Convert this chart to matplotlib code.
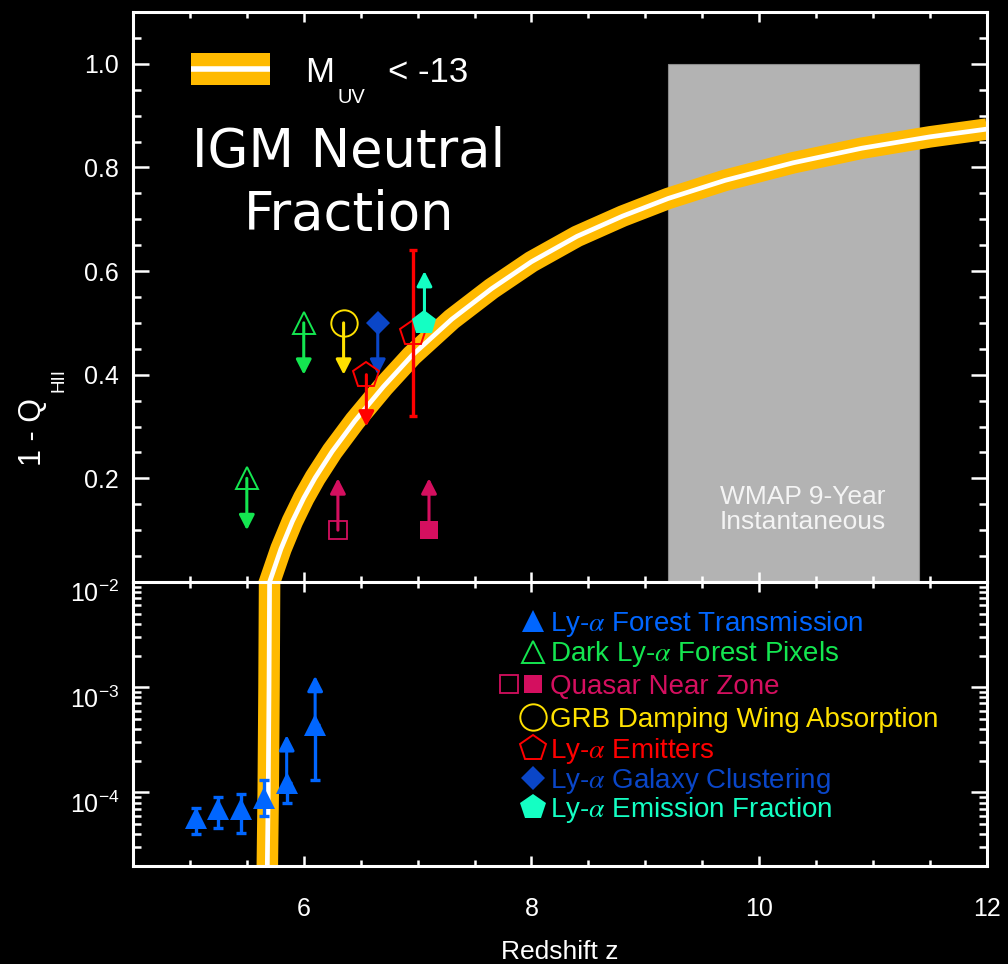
import numpy as np
import matplotlib
matplotlib.use("Agg")
import matplotlib.pyplot as plt
from matplotlib.patches import Rectangle, ArrowStyle
from matplotlib.transforms import ScaledTranslation
from matplotlib.ticker import MultipleLocator, FixedLocator, FixedFormatter, LogLocator, NullFormatter

plt.rcParams['font.family'] = ['Liberation Sans', 'DejaVu Sans']
plt.rcParams['mathtext.fontset'] = 'stix'

# ---------------- data ----------------
# model neutral fraction (M_UV < -13), linear panel
model_z_lin = [5.65, 5.70, 5.80, 5.90, 6.00, 6.10, 6.25, 6.45, 6.70, 6.95, 7.30, 7.65,
               8.00, 8.40, 8.80, 9.20, 9.70, 10.30, 10.90, 11.50, 12.00]
model_x_lin = [-0.03, 0.0, 0.064, 0.117, 0.162, 0.201, 0.252, 0.311, 0.377, 0.437, 0.507, 0.566,
               0.618, 0.667, 0.706, 0.740, 0.775, 0.809, 0.837, 0.859, 0.874]
# model neutral fraction, log panel
model_z_log = [5.675, 5.680, 5.688, 5.695, 5.700, 5.702]
model_x_log = [1e-5, 2e-5, 1e-4, 1e-3, 1e-2, 1.5e-2]

# WMAP 9-year instantaneous reionization range
wmap_z = [9.2, 11.4]
wmap_x = [0.0, 1.0]

# Ly-alpha forest transmission
forest_z = [5.05, 5.25, 5.45, 5.65, 5.85, 6.10]
forest_x = [5.7e-5, 7.0e-5, 6.9e-5, 8.8e-5, 1.24e-4, 4.4e-4]
forest_lo = [4.0e-5, 4.6e-5, 4.1e-5, 6.0e-5, 8.0e-5, 1.3e-4]
forest_hi = [7.1e-5, 9.1e-5, 9.7e-5, 1.31e-4, np.nan, np.nan]
forest_lim = [np.nan, np.nan, np.nan, np.nan, 3.5e-4, 1.28e-3]

# Dark Ly-alpha forest pixels (upper limits)
dark_z = [5.5, 6.0]
dark_x = [0.2, 0.5]
dark_lim = [0.1, 0.4]

# Quasar near zones (lower limits)
qso_open_z = [6.3]
qso_open_x = [0.1]
qso_open_lim = [0.2]
qso_fill_z = [7.1]
qso_fill_x = [0.1]
qso_fill_lim = [0.2]

# GRB damping wing (upper limit)
grb_z = [6.35]
grb_x = [0.5]
grb_lim = [0.4]

# Ly-alpha emitters
lae_lim_z = [6.55]
lae_lim_x = [0.40]
lae_lim_tip = [0.30]
lae_z = [6.96]
lae_x = [0.48]
lae_err = [0.16]

# Ly-alpha galaxy clustering (upper limit)
clus_z = [6.65]
clus_x = [0.5]
clus_lim = [0.4]

# Ly-alpha emission fraction (lower limit)
frac_z = [7.06]
frac_x = [0.5]
frac_lim = [0.6]

legend_labels = ['Ly-$\\alpha$ Forest Transmission', 'Dark Ly-$\\alpha$ Forest Pixels',
                 'Quasar Near Zone', 'GRB Damping Wing Absorption', 'Ly-$\\alpha$ Emitters',
                 'Ly-$\\alpha$ Galaxy Clustering', 'Ly-$\\alpha$ Emission Fraction']

# ---------------- colours ----------------
ORANGE = '#ffba00'
C_FOREST = '#0066ff'
C_DARK = '#14e650'
C_QSO = '#d40f5f'
C_GRB = '#ffe100'
C_LAE = '#ff0000'
C_CLUS = '#0a46c8'
C_FRAC = '#14ffc3'
GRAY = '#b3b3b3'

fig = plt.figure(figsize=(10.08, 9.64), dpi=100, facecolor='black')
ax1 = fig.add_axes([0.1319, 0.3963, 0.8472, 0.5913], facecolor='black')
ax2 = fig.add_axes([0.1319, 0.1017, 0.8472, 0.2946], facecolor='black')


def style(ax):
    for s in ax.spines.values():
        s.set_color('white')
        s.set_linewidth(2.2)
        s.set_zorder(10)
    ax.tick_params(which='both', direction='in', colors='white', top=True, right=True,
                   width=1.8, labelsize=18)
    ax.tick_params(axis='x', which='major', length=7, pad=22)
    ax.tick_params(axis='x', which='minor', length=4)
    ax.tick_params(axis='y', which='major', length=11.5, pad=10)
    ax.tick_params(axis='y', which='minor', length=5.5)
    ax.set_xlim(4.5, 12)
    ax.xaxis.set_major_locator(FixedLocator([6, 8, 10, 12]))
    ax.xaxis.set_minor_locator(MultipleLocator(0.5))


style(ax1)
style(ax2)


def arrow(ax, z, y_from, y_to, color):
    ax.annotate('', xy=(z, y_to), xytext=(z, y_from),
                arrowprops=dict(arrowstyle=ArrowStyle('-|>', head_length=9, head_width=4.6),
                                mutation_scale=1, lw=2.2, color=color,
                                shrinkA=0, shrinkB=0), zorder=4)


def model_band(ax, z, x):
    ax.plot(z, x, color=ORANGE, lw=15.5, solid_capstyle='butt', solid_joinstyle='round', zorder=2)
    ax.plot(z, x, color='white', lw=3.4, solid_capstyle='butt', solid_joinstyle='round', zorder=2.1)


# ---------------- top panel (linear) ----------------
ax1.set_ylim(0, 1.1)
ax1.yaxis.set_major_locator(FixedLocator([0.2, 0.4, 0.6, 0.8, 1.0]))
ax1.yaxis.set_major_formatter(FixedFormatter(['0.2', '0.4', '0.6', '0.8', '1.0']))
ax1.yaxis.set_minor_locator(MultipleLocator(0.05))
ax1.tick_params(axis='x', labelbottom=False)

ax1.add_patch(Rectangle((wmap_z[0], wmap_x[0]), wmap_z[1] - wmap_z[0], wmap_x[1] - wmap_x[0],
                        facecolor=GRAY, edgecolor='#8a8a8a', lw=0.8, zorder=1))
ax1.text(0.784, 0.137, 'WMAP 9-Year', transform=ax1.transAxes, ha='center', va='baseline',
         color='#f4f4f4', fontsize=19)
ax1.text(0.784, 0.093, 'Instantaneous', transform=ax1.transAxes, ha='center', va='baseline',
         color='#f4f4f4', fontsize=19)

model_band(ax1, model_z_lin, model_x_lin)

# upper / lower limit arrows
for z, y, t in zip(dark_z, dark_x, dark_lim):
    arrow(ax1, z, y, t, C_DARK)
for z, y, t in zip(qso_open_z, qso_open_x, qso_open_lim):
    arrow(ax1, z, y, t, C_QSO)
for z, y, t in zip(qso_fill_z, qso_fill_x, qso_fill_lim):
    arrow(ax1, z, y, t, C_QSO)
for z, y, t in zip(grb_z, grb_x, grb_lim):
    arrow(ax1, z, y, t, C_GRB)
for z, y, t in zip(lae_lim_z, lae_lim_x, lae_lim_tip):
    arrow(ax1, z, y, t, C_LAE)
for z, y, t in zip(clus_z, clus_x, clus_lim):
    arrow(ax1, z, y, t, C_CLUS)
for z, y, t in zip(frac_z, frac_x, frac_lim):
    arrow(ax1, z, y, t, C_FRAC)

ax1.errorbar(lae_z, lae_x, yerr=lae_err, fmt='none', ecolor=C_LAE, elinewidth=2.4,
             capsize=3.2, capthick=2.4, zorder=3)

ax1.plot(dark_z, dark_x, ls='none', marker='^', ms=16.5, mfc='none', mec=C_DARK, mew=1.4, zorder=5)
ax1.plot(qso_open_z, qso_open_x, ls='none', marker='s', ms=13, mfc='none', mec=C_QSO, mew=1.3, zorder=5)
ax1.plot(qso_fill_z, qso_fill_x, ls='none', marker='s', ms=13, mfc=C_QSO, mec=C_QSO, mew=0, zorder=5)
ax1.plot(grb_z, grb_x, ls='none', marker='o', ms=19, mfc='none', mec=C_GRB, mew=1.4, zorder=5)
ax1.plot(lae_lim_z + lae_z, lae_lim_x + lae_x, ls='none', marker='p', ms=19, mfc='none',
         mec=C_LAE, mew=1.4, zorder=5)
ax1.plot(clus_z, clus_x, ls='none', marker='D', ms=12.7, mfc=C_CLUS, mec=C_CLUS, mew=0, zorder=5)
ax1.plot(frac_z, frac_x, ls='none', marker='p', ms=18.5, mfc=C_FRAC, mec=C_FRAC, mew=0, zorder=5)

# model swatch and titles
ax1.add_patch(Rectangle((0.068, 0.872), 0.093, 0.056, transform=ax1.transAxes,
                        facecolor=ORANGE, edgecolor='none', zorder=6))
ax1.plot([0.068, 0.161], [0.900, 0.900], transform=ax1.transAxes, color='white', lw=4.0,
         solid_capstyle='butt', zorder=7)
ax1.text(0.202, 0.877, 'M', transform=ax1.transAxes, color='white', fontsize=25, va='baseline')
ax1.text(0.240, 0.840, 'UV', transform=ax1.transAxes, color='white', fontsize=14.5, va='baseline')
ax1.text(0.299, 0.877, '< -13', transform=ax1.transAxes, color='white', fontsize=25, va='baseline')
ax1.text(0.2526, 0.728, 'IGM Neutral', transform=ax1.transAxes, color='white', fontsize=38,
         ha='center', va='baseline', family='DejaVu Sans')
ax1.text(0.2526, 0.6175, 'Fraction', transform=ax1.transAxes, color='white', fontsize=38,
         ha='center', va='baseline', family='DejaVu Sans')

# ---------------- bottom panel (log) ----------------
ax2.set_yscale('log')
ax2.set_ylim(2e-5, 1e-2)
ax2.yaxis.set_major_locator(FixedLocator([1e-4, 1e-3, 1e-2]))
ax2.yaxis.set_major_formatter(FixedFormatter([r'$\mathregular{10^{-4}}$', r'$\mathregular{10^{-3}}$',
                                              r'$\mathregular{10^{-2}}$']))
ax2.yaxis.set_minor_locator(LogLocator(base=10, subs=np.arange(2, 10), numticks=20))
ax2.yaxis.set_minor_formatter(NullFormatter())
ax2.xaxis.set_major_formatter(FixedFormatter(['6', '8', '10', '12']))
for lab in ax2.get_yticklabels():
    lab.set_transform(lab.get_transform() + ScaledTranslation(0, -7 / 72, fig.dpi_scale_trans))

model_band(ax2, model_z_log, model_x_log)

fx = np.array(forest_x)
flo = fx - np.array(forest_lo)
fhi = np.nan_to_num(np.array(forest_hi) - fx, nan=0.0)
ax2.errorbar(forest_z, forest_x, yerr=[flo, fhi], fmt='none', ecolor=C_FOREST, elinewidth=2.4,
             capsize=3.3, capthick=2.4, zorder=3)
for z, y, t in zip(forest_z, forest_x, forest_lim):
    if not np.isnan(t):
        arrow(ax2, z, y, t, C_FOREST)
ax2.plot(forest_z, forest_x, ls='none', marker='^', ms=15.5, mfc=C_FOREST, mec=C_FOREST, mew=0, zorder=5)

# key
rows = [0.864, 0.755, 0.640, 0.526, 0.414, 0.309, 0.209]
mk_x = 0.468
key_styles = [
    dict(marker='^', ms=15.8, mfc=C_FOREST, mec=C_FOREST, mew=0),
    dict(marker='^', ms=16.5, mfc='none', mec=C_DARK, mew=1.4),
    dict(marker='s', ms=13, mfc=C_QSO, mec=C_QSO, mew=0),
    dict(marker='o', ms=19, mfc='none', mec=C_GRB, mew=1.4),
    dict(marker='p', ms=19, mfc='none', mec=C_LAE, mew=1.4),
    dict(marker='D', ms=12.7, mfc=C_CLUS, mec=C_CLUS, mew=0),
    dict(marker='p', ms=19, mfc=C_FRAC, mec=C_FRAC, mew=0),
]
key_colors = [C_FOREST, C_DARK, C_QSO, C_GRB, C_LAE, C_CLUS, C_FRAC]
for yy, st, lab, col in zip(rows, key_styles, legend_labels, key_colors):
    ax2.plot([mk_x], [yy], transform=ax2.transAxes, ls='none', zorder=6, **st)
    ax2.text(0.488, yy - 0.035, lab, transform=ax2.transAxes, color=col, fontsize=20,
             va='baseline', ha='left')
ax2.plot([0.440], [rows[2]], transform=ax2.transAxes, ls='none', marker='s', ms=13,
         mfc='none', mec=C_QSO, mew=1.3, zorder=6)

# axis labels
fig.text(33 / 1008, 1 - 432 / 964, '1 - Q', rotation=90, color='white', fontsize=22,
         ha='center', va='center')
fig.text(59 / 1008, 1 - 380 / 964, 'HII', rotation=90, color='white', fontsize=13.5,
         ha='center', va='center')
fig.text(560 / 1008, 1 - 959 / 964, 'Redshift z', color='white', fontsize=19,
         ha='center', va='baseline')

fig.savefig('out.png', dpi=100, facecolor='black')
